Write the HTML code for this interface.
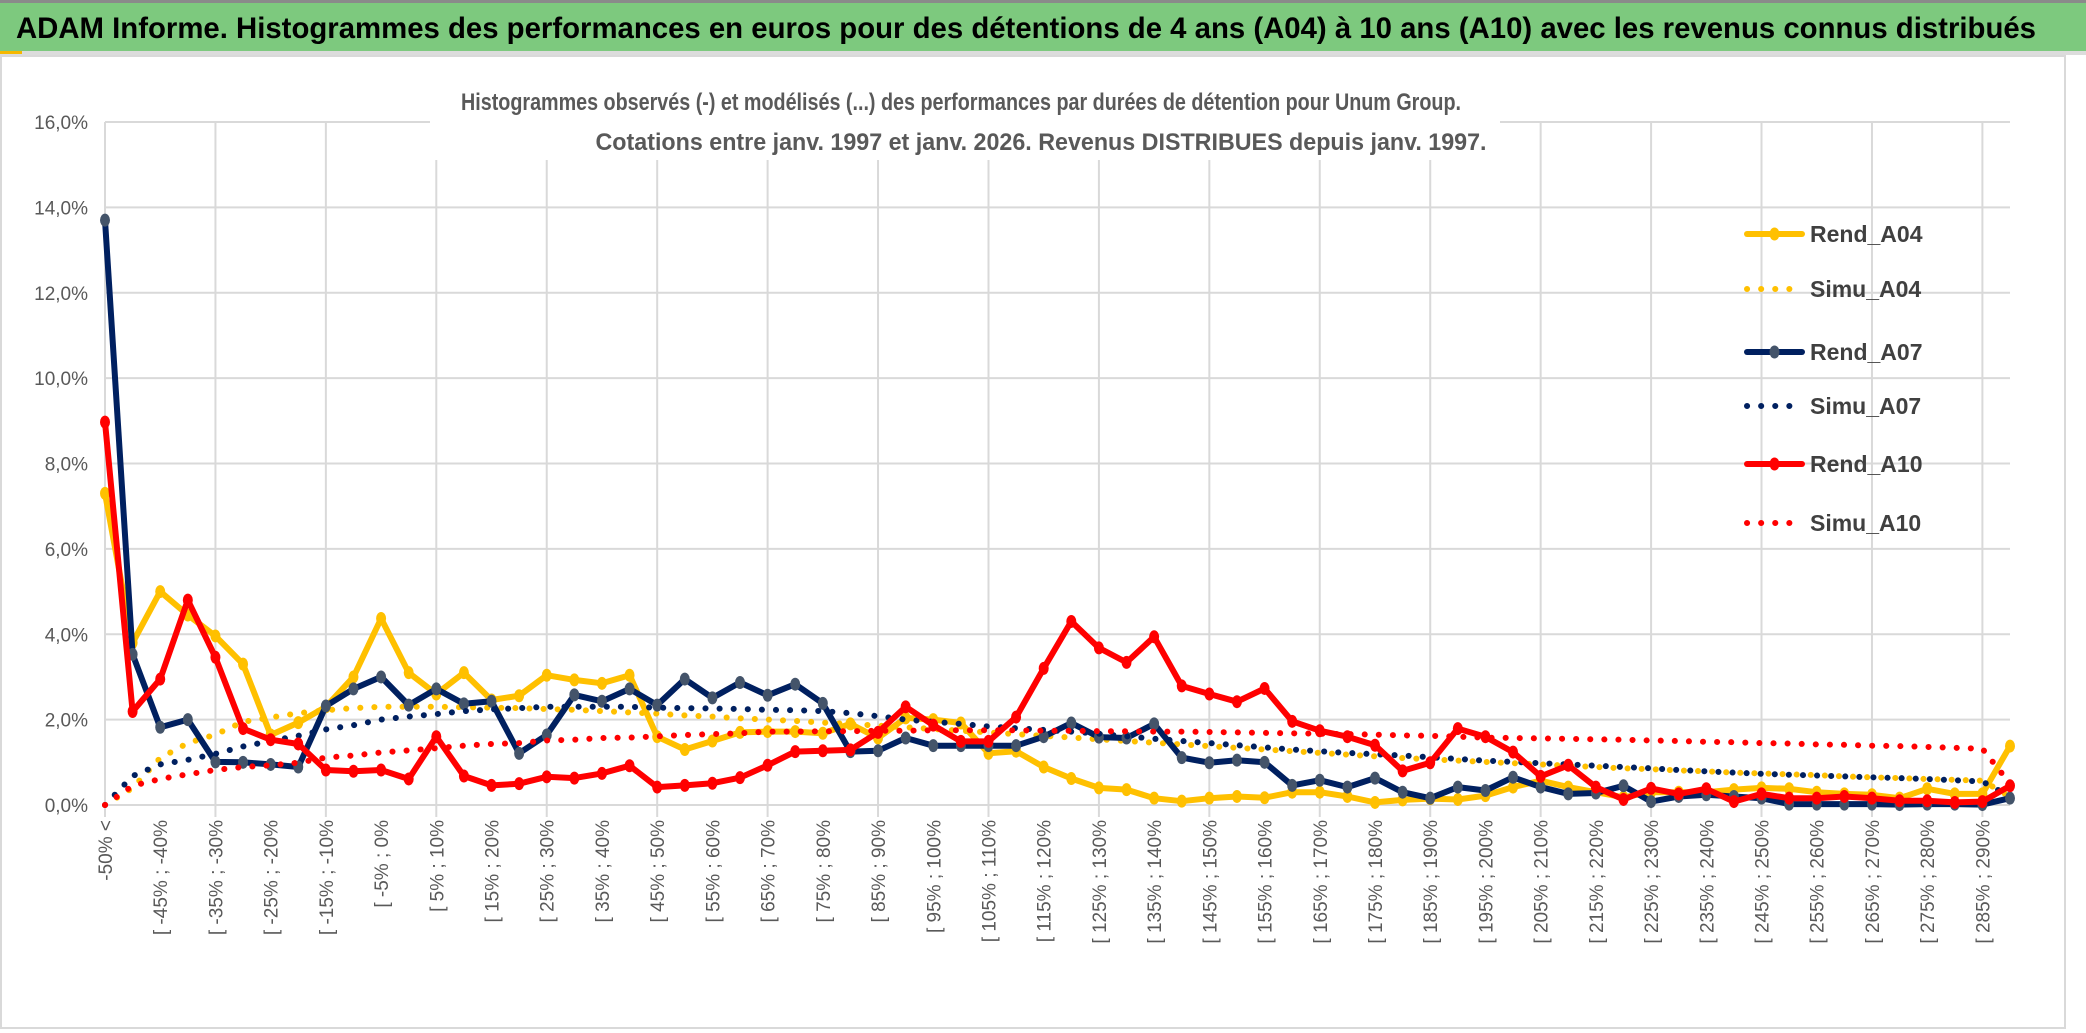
<!DOCTYPE html>
<html><head><meta charset="utf-8">
<style>
html,body{margin:0;padding:0;background:#fff;}
svg{display:block;font-family:"Liberation Sans",sans-serif;}
</style></head>
<body>
<svg id="chart" width="2086" height="1033" viewBox="0 0 2086 1033" xmlns="http://www.w3.org/2000/svg">
<rect x="0" y="0" width="2086" height="1033" fill="#fff"/>
<g>
<rect x="0" y="0" width="2086" height="52" fill="#7dc97e"/>
<rect x="0" y="0" width="2086" height="3" fill="#8a8a8a"/>
<rect x="0" y="51" width="2086" height="4" fill="#dcdcdc"/>
<rect x="0" y="51" width="22" height="3" fill="#f5b800"/>
<text x="16" y="38" font-size="30" font-weight="bold" fill="#000" textLength="2020" lengthAdjust="spacingAndGlyphs">ADAM Informe. Histogrammes des performances en euros pour des détentions de 4 ans (A04) à 10 ans (A10) avec les revenus connus distribués</text>
</g>
<rect x="1" y="56" width="2064" height="972" fill="none" stroke="#d9d9d9" stroke-width="2"/>
<g id="grid"></g>
<g id="yaxis"></g>
<g id="xaxis"></g>
<g>
<rect x="430" y="75" width="1070" height="85" fill="#fff"/>
<text x="961" y="110" text-anchor="middle" font-size="24" font-weight="bold" fill="#595959" textLength="1000" lengthAdjust="spacingAndGlyphs">Histogrammes observés (-) et modélisés (...) des performances par durées de détention pour Unum Group.</text>
<text x="1041" y="150" text-anchor="middle" font-size="24" font-weight="bold" fill="#595959" textLength="891" lengthAdjust="spacingAndGlyphs">Cotations entre janv. 1997 et janv. 2026. Revenus DISTRIBUES depuis janv. 1997.</text>
</g>
<g id="series"></g>
<g id="legend"></g>
</svg>
<script>
const yTicks = [0,2,4,6,8,10,12,14,16];
const rendA04 = [7.3,3.8,5.0,4.45,3.96,3.3,1.64,1.93,2.3,3.0,4.37,3.1,2.6,3.1,2.46,2.56,3.04,2.93,2.85,3.04,1.6,1.3,1.5,1.7,1.72,1.72,1.68,1.9,1.57,2.04,2.0,1.92,1.21,1.26,0.89,0.62,0.4,0.36,0.16,0.09,0.16,0.2,0.17,0.3,0.3,0.2,0.06,0.12,0.15,0.13,0.22,0.42,0.57,0.42,0.3,0.18,0.3,0.3,0.3,0.36,0.4,0.38,0.3,0.26,0.24,0.16,0.38,0.26,0.26,1.38];
const simuA04 = [0,0.4,1.1,1.45,1.65,1.95,2.05,2.15,2.22,2.27,2.3,2.3,2.3,2.29,2.28,2.27,2.25,2.23,2.2,2.17,2.14,2.1,2.07,2.03,2.0,1.97,1.93,1.9,1.86,1.82,1.78,1.74,1.7,1.66,1.62,1.58,1.54,1.5,1.46,1.42,1.38,1.34,1.3,1.26,1.22,1.18,1.14,1.1,1.07,1.04,1.01,0.98,0.95,0.92,0.89,0.86,0.84,0.81,0.79,0.76,0.74,0.72,0.7,0.67,0.65,0.63,0.61,0.59,0.57,0.2];
const rendA07 = [13.7,3.53,1.82,2.0,1.01,1.0,0.95,0.89,2.32,2.72,3.0,2.34,2.72,2.37,2.43,1.21,1.64,2.58,2.43,2.72,2.34,2.95,2.51,2.87,2.57,2.83,2.38,1.25,1.27,1.57,1.39,1.39,1.39,1.39,1.6,1.92,1.59,1.57,1.9,1.11,0.99,1.05,1.0,0.46,0.58,0.42,0.63,0.3,0.16,0.42,0.34,0.65,0.42,0.26,0.28,0.45,0.08,0.2,0.24,0.2,0.16,0.02,0.02,0.02,0.02,0.01,0.02,0.02,0.01,0.16];
const simuA07 = [0,0.68,0.95,1.06,1.2,1.37,1.5,1.62,1.77,1.87,2.0,2.07,2.13,2.2,2.24,2.27,2.3,2.3,2.3,2.3,2.28,2.27,2.26,2.25,2.23,2.22,2.2,2.15,2.08,2.0,1.95,1.9,1.84,1.8,1.76,1.72,1.67,1.61,1.55,1.5,1.45,1.4,1.35,1.3,1.26,1.22,1.19,1.16,1.12,1.08,1.04,1.01,0.98,0.95,0.92,0.89,0.86,0.82,0.79,0.76,0.73,0.71,0.69,0.67,0.65,0.63,0.61,0.58,0.55,0.2];
const rendA10 = [8.97,2.19,2.95,4.8,3.46,1.79,1.53,1.43,0.82,0.79,0.82,0.61,1.6,0.68,0.46,0.5,0.66,0.63,0.74,0.92,0.42,0.46,0.51,0.64,0.93,1.25,1.27,1.29,1.7,2.3,1.87,1.49,1.49,2.06,3.2,4.3,3.68,3.34,3.94,2.79,2.6,2.42,2.73,1.96,1.74,1.6,1.4,0.8,0.99,1.79,1.6,1.24,0.67,0.93,0.42,0.13,0.39,0.26,0.38,0.08,0.26,0.16,0.16,0.2,0.16,0.1,0.1,0.06,0.08,0.45];
const simuA10 = [0,0.45,0.61,0.72,0.82,0.89,0.93,0.99,1.11,1.16,1.23,1.28,1.33,1.39,1.43,1.45,1.51,1.53,1.57,1.58,1.61,1.64,1.66,1.68,1.72,1.72,1.73,1.73,1.74,1.74,1.75,1.75,1.75,1.75,1.74,1.74,1.73,1.73,1.72,1.72,1.71,1.7,1.69,1.68,1.67,1.66,1.65,1.63,1.62,1.6,1.58,1.57,1.56,1.55,1.54,1.53,1.51,1.5,1.48,1.47,1.45,1.44,1.42,1.41,1.39,1.38,1.36,1.34,1.32,0.5];
const categories = ["-50% <"];
for (let k = 0; k < 68; k++) { const a = -50 + 5*k; categories.push("[ " + a + "% ; " + (a+5) + "%"); }
categories.push("290% >");

const NS = "http://www.w3.org/2000/svg";
const X0 = 105, X1 = 2010, Y0 = 805, YT = 122, YMAX = 16;
const n = categories.length;
const xs = i => X0 + (X1 - X0) * i / (n - 1);
const ys = v => Y0 - (Y0 - YT) * v / YMAX;
function mk(tag, attrs, parent) { const e = document.createElementNS(NS, tag); for (const k in attrs) e.setAttribute(k, attrs[k]); parent.appendChild(e); return e; }

const grid = document.getElementById('grid');
yTicks.forEach(t => {
  const l = mk('line', {x1: X0, x2: X1, y1: ys(t), y2: ys(t), stroke: '#d9d9d9', 'stroke-width': 2}, grid);
  
  
});
for (let i = 0; i < n; i += 4) {
  const l = mk('line', {x1: xs(i), x2: xs(i), y1: YT, y2: Y0 + 12, stroke: '#d9d9d9', 'stroke-width': 2}, grid);
  
  
}
const ya = document.getElementById('yaxis');
yTicks.forEach(t => {
  const tx = mk('text', {x: 88, y: ys(t) + 7, 'text-anchor': 'end', 'font-size': 19, fill: '#595959'}, ya);
  tx.textContent = t.toFixed(1).replace('.', ',') + '%';
  
  
});
const xa = document.getElementById('xaxis');
for (let i = 0; i < n; i += 2) {
  const x = xs(i) + 7, y = 820;
  const tx = mk('text', {x: x, y: y, 'text-anchor': 'end', 'font-size': 19, fill: '#595959', transform: 'rotate(-90 ' + x + ' ' + y + ')'}, xa);
  tx.textContent = categories[i];
  
  
}

const seriesDefs = [
  {name: 'Rend_A04', data: rendA04, color: '#ffc000', dotted: false, marker: '#ffc000'},
  {name: 'Simu_A04', data: simuA04, color: '#ffc000', dotted: true},
  {name: 'Rend_A07', data: rendA07, color: '#002060', dotted: false, marker: '#44546a'},
  {name: 'Simu_A07', data: simuA07, color: '#002060', dotted: true},
  {name: 'Rend_A10', data: rendA10, color: '#ff0000', dotted: false, marker: '#ff0000'},
  {name: 'Simu_A10', data: simuA10, color: '#ff0000', dotted: true}
];
const sg = document.getElementById('series');
seriesDefs.forEach(s => {
  const g = mk('g', {}, sg);
  
  
  const pts = s.data.map((v, i) => xs(i).toFixed(1) + ',' + ys(v).toFixed(1)).join(' ');
  const attrs = {points: pts, fill: 'none', stroke: s.color, 'stroke-width': s.dotted ? 6 : 6, 'stroke-linejoin': 'round', 'stroke-linecap': 'round'};
  if (s.dotted) attrs['stroke-dasharray'] = '0.1 14';
  const pl = mk('polyline', attrs, g);
  
  
  if (!s.dotted) {
    s.data.forEach((v, i) => {
      const c = mk('ellipse', {cx: xs(i), cy: ys(v), rx: 5, ry: 6.5, fill: s.marker}, g);
      
      
    });
  }
});

const lg = document.getElementById('legend');
const legendY = [234, 289, 352, 406, 464, 523];
seriesDefs.forEach((s, k) => {
  const g = mk('g', {}, lg);
  
  
  const la = {x1: 1747, x2: 1802, y1: legendY[k], y2: legendY[k], stroke: s.color, 'stroke-width': 6, 'stroke-linecap': 'round'};
  if (s.dotted) la['stroke-dasharray'] = '0.1 14';
  mk('line', la, g);
  if (!s.dotted) mk('ellipse', {cx: 1774.5, cy: legendY[k], rx: 5, ry: 6.5, fill: s.marker}, g);
  const t = mk('text', {x: 1810, y: legendY[k] + 8, 'font-size': 23, 'font-weight': 'bold', fill: '#404040'}, g);
  t.textContent = s.name;
});
</script>
</body></html>
